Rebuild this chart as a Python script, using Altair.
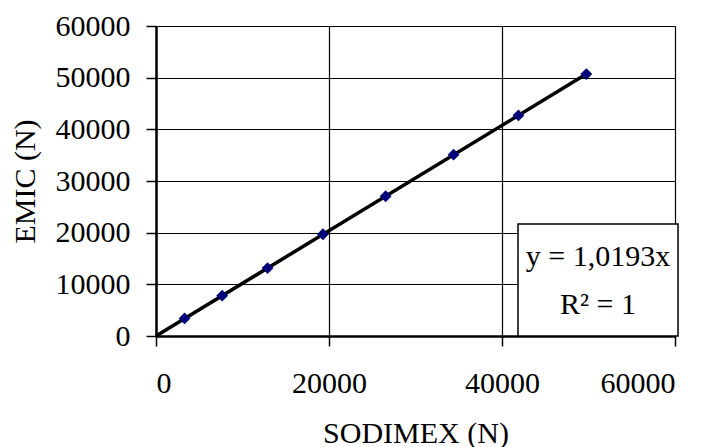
import altair as alt
import pandas as pd

sodimex = [3300, 7650, 12900, 19300, 26550, 34400, 41900, 49750]
emic = [3400, 7800, 13150, 19700, 27050, 35100, 42700, 50700]
trend_x = [0, 49750]
trend_y = [0, 50710]
eq_lines = ["y = 1,0193x", "R² = 1"]

FONT = "Liberation Serif"
FS = 30

pts = pd.DataFrame({"x": sodimex, "y": emic})
trend = pd.DataFrame({"x": trend_x, "y": trend_y})

xs = alt.Scale(domain=[0, 60000], nice=False)
ys = alt.Scale(domain=[0, 60000], nice=False)

xax = alt.Axis(values=[0, 20000, 40000, 60000], format="d", title="SODIMEX (N)",
               grid=True, gridColor="black", gridWidth=1.2, gridOpacity=1,
               domainColor="black", domainWidth=2.5, tickColor="black", tickSize=10,
               tickWidth=1.5, labelFont=FONT, labelFontSize=FS, labelColor="black",
               labelPadding=22, titleFont=FONT, titleFontSize=FS, titleFontWeight="normal",
               titleColor="black", titlePadding=20)
yax = alt.Axis(values=[0, 10000, 20000, 30000, 40000, 50000, 60000], format="d",
               title="EMIC (N)", grid=True, gridColor="black", gridWidth=1.2, gridOpacity=1,
               domainColor="black", domainWidth=2.5, tickColor="black", tickSize=10,
               tickWidth=1.5, labelFont=FONT, labelFontSize=FS, labelColor="black",
               labelPadding=16, titleFont=FONT, titleFontSize=FS, titleFontWeight="normal",
               titleColor="black", titlePadding=15)

base = alt.Chart(pts)

points = base.mark_point(shape="diamond", filled=True, color="#00007a", size=140, opacity=1).encode(
    x=alt.X("x:Q", scale=xs, axis=xax),
    y=alt.Y("y:Q", scale=ys, axis=yax),
)

line = alt.Chart(trend).mark_line(color="black", strokeWidth=3.5).encode(
    x=alt.X("x:Q", scale=xs), y=alt.Y("y:Q", scale=ys)
)

box_df = pd.DataFrame({"x": [41850], "x2": [60350], "y": [0], "y2": [21700]})
box = alt.Chart(box_df).mark_rect(fill="white", stroke="black", strokeWidth=1.5, clip=False).encode(
    x=alt.X("x:Q", scale=xs), x2="x2:Q", y=alt.Y("y:Q", scale=ys), y2="y2:Q"
)

txt_df = pd.DataFrame({"t": eq_lines, "x": [51100, 51100], "y": [15300, 6000]})
txt = alt.Chart(txt_df).mark_text(font=FONT, fontSize=FS, color="black", align="center",
                                  baseline="middle", clip=False).encode(
    x=alt.X("x:Q", scale=xs), y=alt.Y("y:Q", scale=ys), text="t:N"
)

chart = (line + points + box + txt).properties(
    width=519, height=310,
    autosize=alt.AutoSizeParams(type="none"),
    padding={"left": 156, "top": 26, "right": 40, "bottom": 111},
).configure_view(stroke="#333333", strokeWidth=2).configure(background="white")

chart.save("out.html", embed_options={"renderer": "svg", "actions": False})
